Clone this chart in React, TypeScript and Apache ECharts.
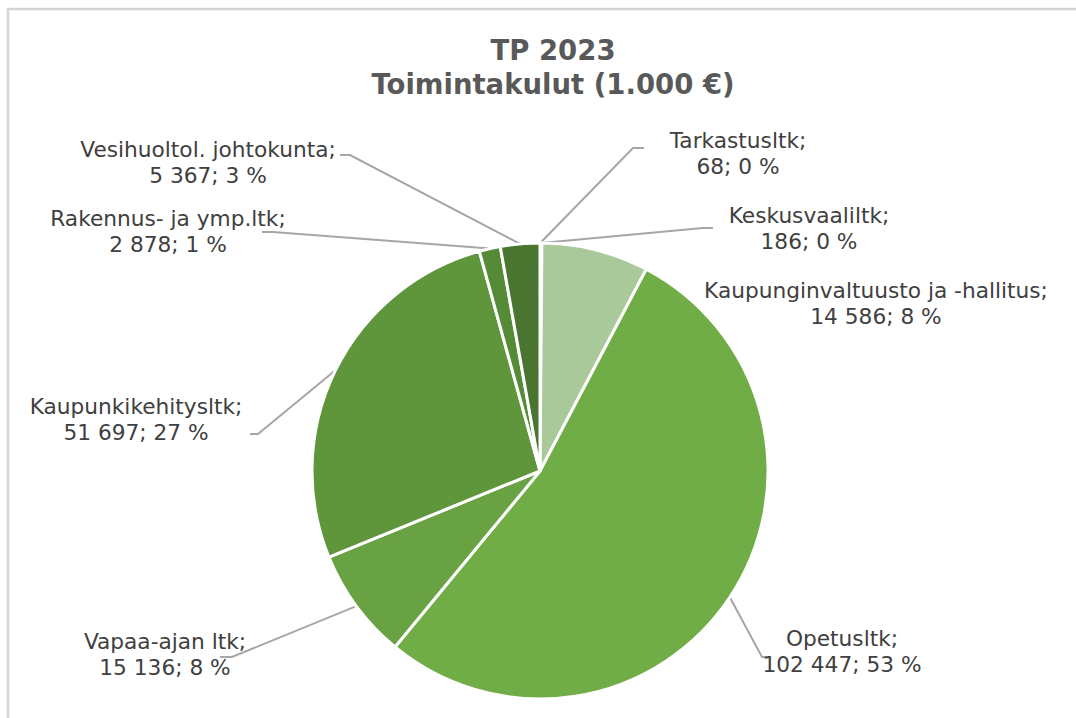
import React, { useEffect, useRef } from "react";
import * as echarts from "echarts";

const categories = [
  "Tarkastusltk",
  "Keskusvaaliltk",
  "Kaupunginvaltuusto ja -hallitus",
  "Opetusltk",
  "Vapaa-ajan ltk",
  "Kaupunkikehitysltk",
  "Rakennus- ja ymp.ltk",
  "Vesihuoltol. johtokunta",
];
const values = [68, 186, 14586, 102447, 15136, 51697, 2878, 5367];
const colors = ["#3f6a27", "#45702b", "#a9c99b", "#70ad47", "#68a242", "#5f963c", "#558a36", "#4a7530"];

// label anchor (center) and leader line elbow / end, layout only
const labelCenter = [
  [738, 153],
  [809, 228],
  [876, 303],
  [842, 651],
  [165, 654],
  [136, 419],
  [168, 231],
  [208, 162],
];
const leaderElbow: (number[] | null)[] = [
  [633, 148],
  [703, 228],
  null,
  [762, 657],
  [232, 657],
  [258, 434],
  [273, 232],
  [350, 155],
];
const leaderEnd: (number[] | null)[] = [
  [644, 148],
  [713, 228],
  null,
  [766, 657],
  [220, 657],
  [250, 434],
  [262, 232],
  [340, 155],
];

const total = values.reduce((a, b) => a + b, 0);
const fmt = (v: number) => String(v).replace(/\B(?=(\d{3})+(?!\d))/g, " ");

export default function App() {
  const ref = useRef<HTMLDivElement>(null);
  useEffect(() => {
    if (!ref.current) return;
    const chart = echarts.init(ref.current, null, { renderer: "svg" });
    chart.setOption({
      animation: false,
      backgroundColor: "#ffffff",
      title: {
        text: "TP 2023\nToimintakulut (1.000 €)",
        left: 548,
        top: 28,
        textAlign: "center",
        textStyle: {
          fontFamily: "DejaVu Sans",
          fontSize: 27.5,
          fontWeight: "bold",
          color: "#595959",
          lineHeight: 34,
        },
      },
      graphic: [
        {
          type: "rect",
          shape: { x: 8, y: 9, width: 1300, height: 1000 },
          style: { fill: "none", stroke: "#d4d4d4", lineWidth: 2.5 },
          silent: true,
        },
      ],
      series: [
        {
          type: "pie",
          center: [540, 471],
          radius: 228,
          startAngle: 90,
          clockwise: true,
          avoidLabelOverlap: false,
          itemStyle: { borderColor: "#ffffff", borderWidth: 3 },
          label: {
            show: true,
            position: "outside",
            fontFamily: "DejaVu Sans",
            fontSize: 21.7,
            lineHeight: 26,
            color: "#404040",
            align: "center",
            formatter: (p: any) =>
              p.name + ";\n" + fmt(p.value) + "; " + Math.round((p.value / total) * 100) + " %",
          },
          labelLine: {
            show: true,
            lineStyle: { color: "#a6a6a6", width: 2 },
          },
          labelLayout: (p: any) => {
            const i = p.dataIndex;
            const c = labelCenter[i];
            const out: any = { x: c[0], y: c[1], align: "center", verticalAlign: "middle" };
            const start = p.labelLinePoints ? p.labelLinePoints[0] : null;
            if (leaderElbow[i] && leaderEnd[i] && start) {
              out.labelLinePoints = [start, leaderElbow[i], leaderEnd[i]];
            } else if (start) {
              out.labelLinePoints = [start, start, start];
            }
            return out;
          },
          data: categories.map((n, i) => ({
            name: n,
            value: values[i],
            itemStyle: { color: colors[i] },
            labelLine: { show: leaderElbow[i] !== null },
          })),
        },
      ],
    });
    return () => chart.dispose();
  }, []);
  return (
    <div
      ref={ref}
      style={{ position: "absolute", left: 0, top: 0, width: 1076, height: 718 }}
    />
  );
}
